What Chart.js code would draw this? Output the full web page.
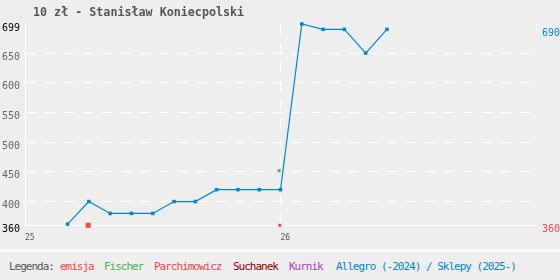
<!DOCTYPE html>
<html lang="pl">
<head>
<meta charset="utf-8">
<title>10 zł - Stanisław Koniecpolski</title>
<script src="https://cdn.jsdelivr.net/npm/chart.js@4"></script>
<style>
  body { margin: 0; background: #eeeeee; font-family: "DejaVu Sans Mono", monospace; }
  #wrap { position: relative; width: 560px; height: 249px; }
  #tytul { position: absolute; left: 33px; top: 6px; font-size: 11.7px; font-weight: bold; line-height: 12px; color: #555; white-space: pre; }
  #sep { width: 560px; height: 3px; background: #f9f9f9; }
  #legenda { position: relative; width: 560px; height: 28px; font-size: 11px; letter-spacing: -1px; line-height: 30px; white-space: pre; }
  #legenda span { position: absolute; top: 0; }
</style>
</head>
<body>
<div id="wrap">
  <canvas id="wykres" width="560" height="249"></canvas>
  <div id="tytul">10 zł - Stanisław Koniecpolski</div>
</div>
<div id="sep"></div>
<div id="legenda">
  <span style="left:9px;color:#555">Legenda:</span>
  <span style="left:60px;color:#ff4444">emisja</span>
  <span style="left:104px;color:#4caf50">Fischer</span>
  <span style="left:154px;color:#e84848">Parchimowicz</span>
  <span style="left:233px;color:#880000">Suchanek</span>
  <span style="left:289px;color:#aa44aa">Kurnik</span>
  <span style="left:336px;color:#0088cc">Allegro (-2024) / Sklepy (2025-)</span>
</div>
<script>
// ----- Dane -----
const lata = ["25", "26"];
const miesiace = ["2025-03-01", "2025-04-01", "2025-05-01", "2025-06-01", "2025-07-01", "2025-08-01",
  "2025-09-01", "2025-10-01", "2025-11-01", "2025-12-01", "2026-01-01", "2026-02-01",
  "2026-03-01", "2026-04-01", "2026-05-01", "2026-06-01"];
const cenyAllegro = [362, 400, 380, 380, 380, 400, 400, 420, 420, 420, 420, 699, 690, 690, 650, 690];
const datyEmisja = ["2025-03-31"];
const cenyEmisja = [360];
const datyFischer = ["2025-12-30"];
const cenyFischer = [452];
const datyParchimowicz = ["2025-12-31"];
const cenyParchimowicz = [360];
const tickiLewe = [360, 400, 450, 500, 550, 600, 650, 699];
const tickiPrawe = [360, 690];

const niebieski = "#0088cc";
const czerwony = "#ff4444";
const czcionka = "DejaVu Sans Mono";

// miesiace od stycznia 2025
function miesiac(d) {
  const [r, m, dz] = d.split("-").map(Number);
  const dni = new Date(r, m, 0).getDate();
  return (r - 2025) * 12 + (m - 1) + (dz - 1) / dni;
}
const punkty = (daty, ceny) => daty.map((d, i) => ({ x: miesiac(d), y: ceny[i] }));
const przezroczysty = "rgba(0,0,0,0)";

// ----- Wykres -----
new Chart(document.getElementById("wykres"), {
  type: "line",
  data: {
    datasets: [
      { label: "Allegro", data: punkty(miesiace, cenyAllegro), borderColor: niebieski, borderWidth: 1.2,
        pointStyle: "rect", pointRadius: 2.5, pointBorderWidth: 0, pointBackgroundColor: niebieski,
        tension: 0, clip: false, yAxisID: "y" },
      { label: "Fischer", data: punkty(datyFischer, cenyFischer), showLine: false, pointStyle: "rect",
        pointRadius: 2.1, pointBorderWidth: 0, pointBackgroundColor: "#4caf50", clip: false, yAxisID: "y" },
      { label: "Parchimowicz", data: punkty(datyParchimowicz, cenyParchimowicz), showLine: false, pointStyle: "rect",
        pointRadius: 2.1, pointBorderWidth: 0, pointBackgroundColor: "#e05050", clip: false, yAxisID: "y" },
      { label: "emisja", data: punkty(datyEmisja, cenyEmisja), showLine: false, pointStyle: "rect",
        pointRadius: 3.6, pointBorderWidth: 0, pointBackgroundColor: czerwony, clip: false, yAxisID: "y" }
    ]
  },
  options: {
    responsive: false,
    animation: false,
    devicePixelRatio: 1,
    layout: { padding: { top: 24, left: 0, right: 0, bottom: 0 } },
    plugins: { legend: { display: false }, tooltip: { enabled: false } },
    scales: {
      x: {
        type: "linear", position: "bottom", min: 0, max: 24,
        afterBuildTicks: s => { s.ticks = [{ value: 0 }, { value: 12 }]; },
        afterFit: s => { s.height = 23.7; },
        ticks: { callback: v => lata[v / 12], font: { family: czcionka, size: 8 }, color: "#555",
          align: "start", padding: 8, maxRotation: 0, autoSkip: false },
        grid: { drawTicks: false, lineWidth: 1, color: c => c.index === 1 ? "#fff" : przezroczysty },
        border: { display: true, color: "#fff", width: 1, dash: [10, 9] }
      },
      y: {
        type: "linear", position: "left", min: 360, max: 699,
        afterBuildTicks: s => { s.ticks = tickiLewe.map(v => ({ value: v })); },
        afterFit: s => { s.width = 25; },
        ticks: { font: { family: czcionka, size: 10 }, padding: 5, labelOffset: 4,
          color: c => (c.tick.value === 360 || c.tick.value === 699) ? "#000" : "#666" },
        grid: { drawTicks: false, lineWidth: 1,
          color: c => (c.tick && (c.tick.value === 360 || c.tick.value === 699)) ? przezroczysty : "#fff" },
        border: { display: true, color: "#fff", width: 1, dash: [10, 9] }
      },
      y2: {
        type: "linear", position: "right", min: 360, max: 699,
        afterBuildTicks: s => { s.ticks = tickiPrawe.map(v => ({ value: v })); },
        afterFit: s => { s.width = 24; },
        ticks: { font: { family: czcionka, size: 10 }, padding: 6, labelOffset: 4,
          color: c => c.tick.value === 690 ? niebieski : czerwony },
        grid: { display: false, drawTicks: false },
        border: { display: false }
      }
    }
  }
});
</script>
</body>
</html>
